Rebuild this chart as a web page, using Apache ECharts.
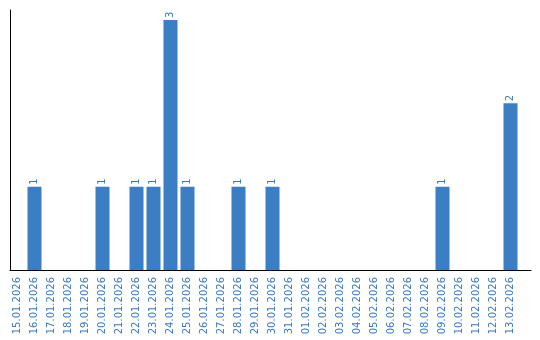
<!DOCTYPE html>
<html><head><meta charset="utf-8">
<script src="https://cdn.jsdelivr.net/npm/echarts@6/dist/echarts.min.js"></script>
<style>html,body{margin:0;padding:0;background:#fff}#c{width:540px;height:340px}</style>
</head><body><div id="c"></div>
<script>
var categories = ['15.01.2026','16.01.2026','17.01.2026','18.01.2026','19.01.2026','20.01.2026','21.01.2026','22.01.2026','23.01.2026','24.01.2026','25.01.2026','26.01.2026','27.01.2026','28.01.2026','29.01.2026','30.01.2026','31.01.2026','01.02.2026','02.02.2026','03.02.2026','04.02.2026','05.02.2026','06.02.2026','07.02.2026','08.02.2026','09.02.2026','10.02.2026','11.02.2026','12.02.2026','13.02.2026'];
var values = [null,1,null,null,null,1,null,1,1,3,1,null,null,1,null,1,null,null,null,null,null,null,null,null,null,1,null,null,null,2];
var barColor = '#3b7ec3';
var textColor = '#3a78bf';
var chart = echarts.init(document.getElementById('c'), null, {renderer:'canvas'});
chart.setOption({
  animation:false,
  grid:[
    {left:9, width:510, top:20, bottom:70},
    {left:10, right:9, top:10, bottom:70}
  ],
  xAxis:[
    {type:'category', gridIndex:0, data:categories,
     axisLine:{show:false}, axisTick:{show:false},
     axisLabel:{interval:0, rotate:90, margin:7, color:textColor, fontFamily:'DejaVu Sans', fontSize:10}},
    {type:'category', gridIndex:1, data:[''],
     axisLine:{show:true, lineStyle:{color:'#000', width:1}}, axisTick:{show:false}, axisLabel:{show:false}}
  ],
  yAxis:[
    {type:'value', gridIndex:0, min:0, max:3, splitLine:{show:false}, axisLabel:{show:false}, axisLine:{show:false}, axisTick:{show:false}},
    {type:'value', gridIndex:1, min:0, max:1, splitLine:{show:false}, axisLabel:{show:false},
     axisLine:{show:true, lineStyle:{color:'#000', width:1}}, axisTick:{show:false}}
  ],
  series:[{
    type:'bar', xAxisIndex:0, yAxisIndex:0, data:values, barWidth:14,
    itemStyle:{color:barColor},
    label:{show:true, position:'top', rotate:90, align:'left', verticalAlign:'middle', distance:2,
      color:textColor, fontFamily:'DejaVu Sans', fontSize:10}
  }]
});
</script></body></html>
